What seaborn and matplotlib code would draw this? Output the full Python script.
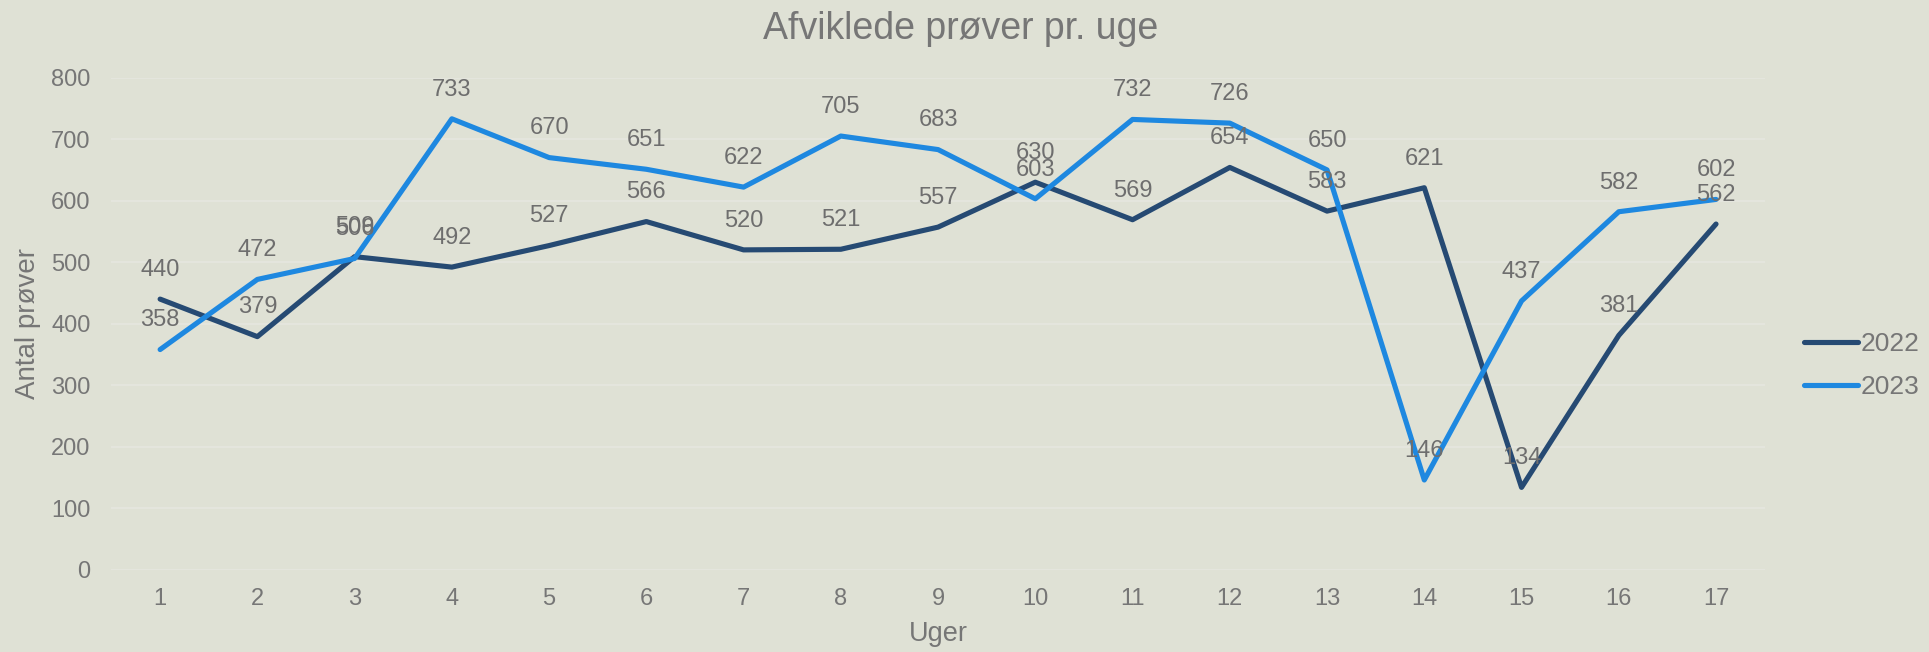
import matplotlib
matplotlib.use("Agg")
import matplotlib.pyplot as plt
import pandas as pd
import seaborn as sns

weeks = list(range(1, 18))
y2022 = [440, 379, 509, 492, 527, 566, 520, 521, 557, 630, 569, 654, 583, 621, 134, 381, 562]
y2023 = [358, 472, 506, 733, 670, 651, 622, 705, 683, 603, 732, 726, 650, 146, 437, 582, 602]
years = ["2022", "2023"]
colors = ["#264A73", "#1E88E0"]

BG = "#DFE1D5"
GRID = "#E6E7DF"
TXT = "#767676"

df = pd.DataFrame({
    "Uge": weeks * 2,
    "Antal": y2022 + y2023,
    "Aar": [years[0]] * len(weeks) + [years[1]] * len(weeks),
})

sns.set_theme(style="white")
plt.rcParams["font.family"] = ["Liberation Sans", "DejaVu Sans"]

fig = plt.figure(figsize=(19.29, 6.52), dpi=100, facecolor=BG)
ax = fig.add_axes([0.0578, 0.126, 0.857, 0.755])
ax.set_facecolor(BG)

sns.lineplot(data=df, x="Uge", y="Antal", hue="Aar", palette=colors,
             linewidth=3.7, ax=ax, solid_capstyle="round")

# data labels above each point
for vals in (y2022, y2023):
    for w, v in zip(weeks, vals):
        ax.annotate(str(v), (w, v), xytext=(0, 21), textcoords="offset points",
                    ha="center", va="center", fontsize=17, color="#6E6E6E")

ax.set_xlim(0.5, 17.5)
ax.set_ylim(0, 800)
ax.set_yticks(range(0, 801, 100))
ax.set_xticks(weeks)
ax.grid(axis="y", color=GRID, linewidth=1.2)
ax.set_axisbelow(True)
for s in ax.spines.values():
    s.set_visible(False)
ax.tick_params(axis="both", length=0, labelsize=17, labelcolor=TXT)
ax.tick_params(axis="y", pad=15)
ax.tick_params(axis="x", pad=13)
ax.set_xlabel("Uger", fontsize=19.5, color=TXT, labelpad=8)
ax.set_ylabel("Antal prøver", fontsize=20, color=TXT, labelpad=7)
fig.text(0.498, 0.956, "Afviklede prøver pr. uge", fontsize=27, color=TXT,
         ha="center", va="center")

leg = ax.legend(loc="center left", bbox_to_anchor=(1.0236, 0.415), frameon=False,
                fontsize=19, handlelength=2.05, handletextpad=0.1, labelspacing=0.7,
                borderpad=0, borderaxespad=0, title=None)
for t in leg.get_texts():
    t.set_color(TXT)

fig.savefig("out.png", dpi=100, facecolor=BG)
